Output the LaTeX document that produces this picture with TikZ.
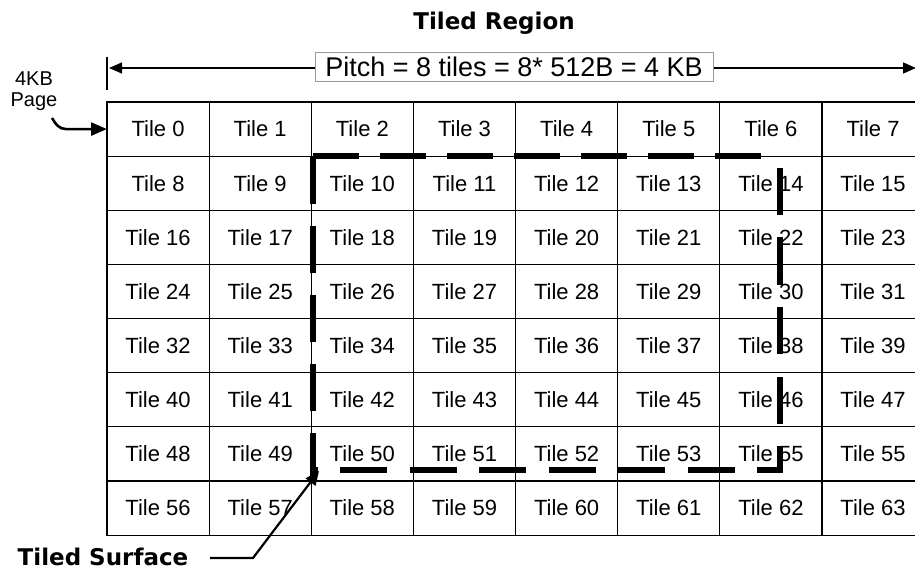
\documentclass[tikz,border=0pt]{standalone}
\usepackage{fontspec}
\setmainfont{Liberation Sans}
\newfontfamily\titlefont{DejaVu Sans}
\usetikzlibrary{arrows.meta}
\begin{document}
\begin{tikzpicture}[x=1pt,y=-1pt,
  tile/.style={draw=black,line width=1.2pt,minimum width=102.14pt,minimum height=54.14pt,
    inner sep=0pt,outer sep=0pt,font=\fontsize{22}{24}\selectfont},
  titletext/.style={font=\titlefont\bfseries\fontsize{23}{26}\selectfont,inner sep=0pt,anchor=base},
  pitchbox/.style={draw=black!40,line width=0.8pt,fill=white,minimum width=398pt,minimum height=29pt,
    inner sep=0pt,font=\fontsize{27}{29}\selectfont},
  thinline/.style={line width=1.3pt,black},
  dimarrow/.style={thinline,{Triangle[length=13pt,width=11pt]}-{Triangle[length=13pt,width=11pt]}},
  pointer/.style={line width=2.6pt,black,-{Triangle[length=16pt,width=13pt]}},
  dashbold/.style={line width=5.5pt,black,line cap=butt},
]
\useasboundingbox (0,0) rectangle (915,569);
\clip (0,0) rectangle (915,569);

% grid of tiles
\foreach \r in {0,...,7}{
  \foreach \c in {0,...,7}{
    \pgfmathtruncatemacro{\n}{8*\r+\c}
    \pgfmathtruncatemacro{\lab}{\n==54 ? 55 : \n}
    \node[tile] (t\n) at ({107+102.14*(\c+0.5)},{102+54.14*(\r+0.5)}) {Tile \lab};
  }
}

% title
\node[titletext] (title) at (494,30) {Tiled Region};

% pitch dimension
\coordinate (tk1) at (107,57);
\coordinate (tk2) at (107,90);
\draw[thinline] (tk1) -- (tk2);
\coordinate (pl) at (109,68);
\coordinate (pr) at (916,68);
\draw[dimarrow] (pl) -- (pr);
\node[pitchbox] (pitch) at (514,66.5) {Pitch = 8 tiles = 8* 512B = 4 KB};

% 4KB page label and hook arrow
\node[align=center,inner sep=0pt,font=\fontsize{20}{21}\selectfont] (page) at (34,91) {4KB\\Page};
\coordinate (hk0) at (52,118);
\coordinate (hk1) at (66,129.07);
\draw[pointer] (hk0) to[out=-60,in=180] (hk1) -- (t0.west);

% dashed tiled surface outline
\coordinate (dTL) at (313,156);
\coordinate (dTR) at (770,156);
\coordinate (dBL) at (313,480);
\coordinate (dRT) at (780,168);
\coordinate (dBR) at (780,470);
\coordinate (dBLb) at (313,470);
\draw[dashbold,dash pattern=on 47pt off 22pt] (dBL) -- (dTL);
\draw[dashbold,dash pattern=on 46pt off 21pt] (dTL) -- (dTR);
\draw[dashbold,dash pattern=on 47pt off 22.5pt] (dRT) -- (dBR) -- (dBLb);

% tiled surface label and arrow
\node[titletext] (ts) at (103,565) {Tiled Surface};
\coordinate (tsa) at (210,558);
\coordinate (tsk) at (253,558);
\coordinate (tstip) at (319,471);
\draw[pointer,line width=2.2pt,-{Triangle[length=14pt,width=12pt]}] (tsa) -- (tsk) -- (tstip);
\end{tikzpicture}
\end{document}
